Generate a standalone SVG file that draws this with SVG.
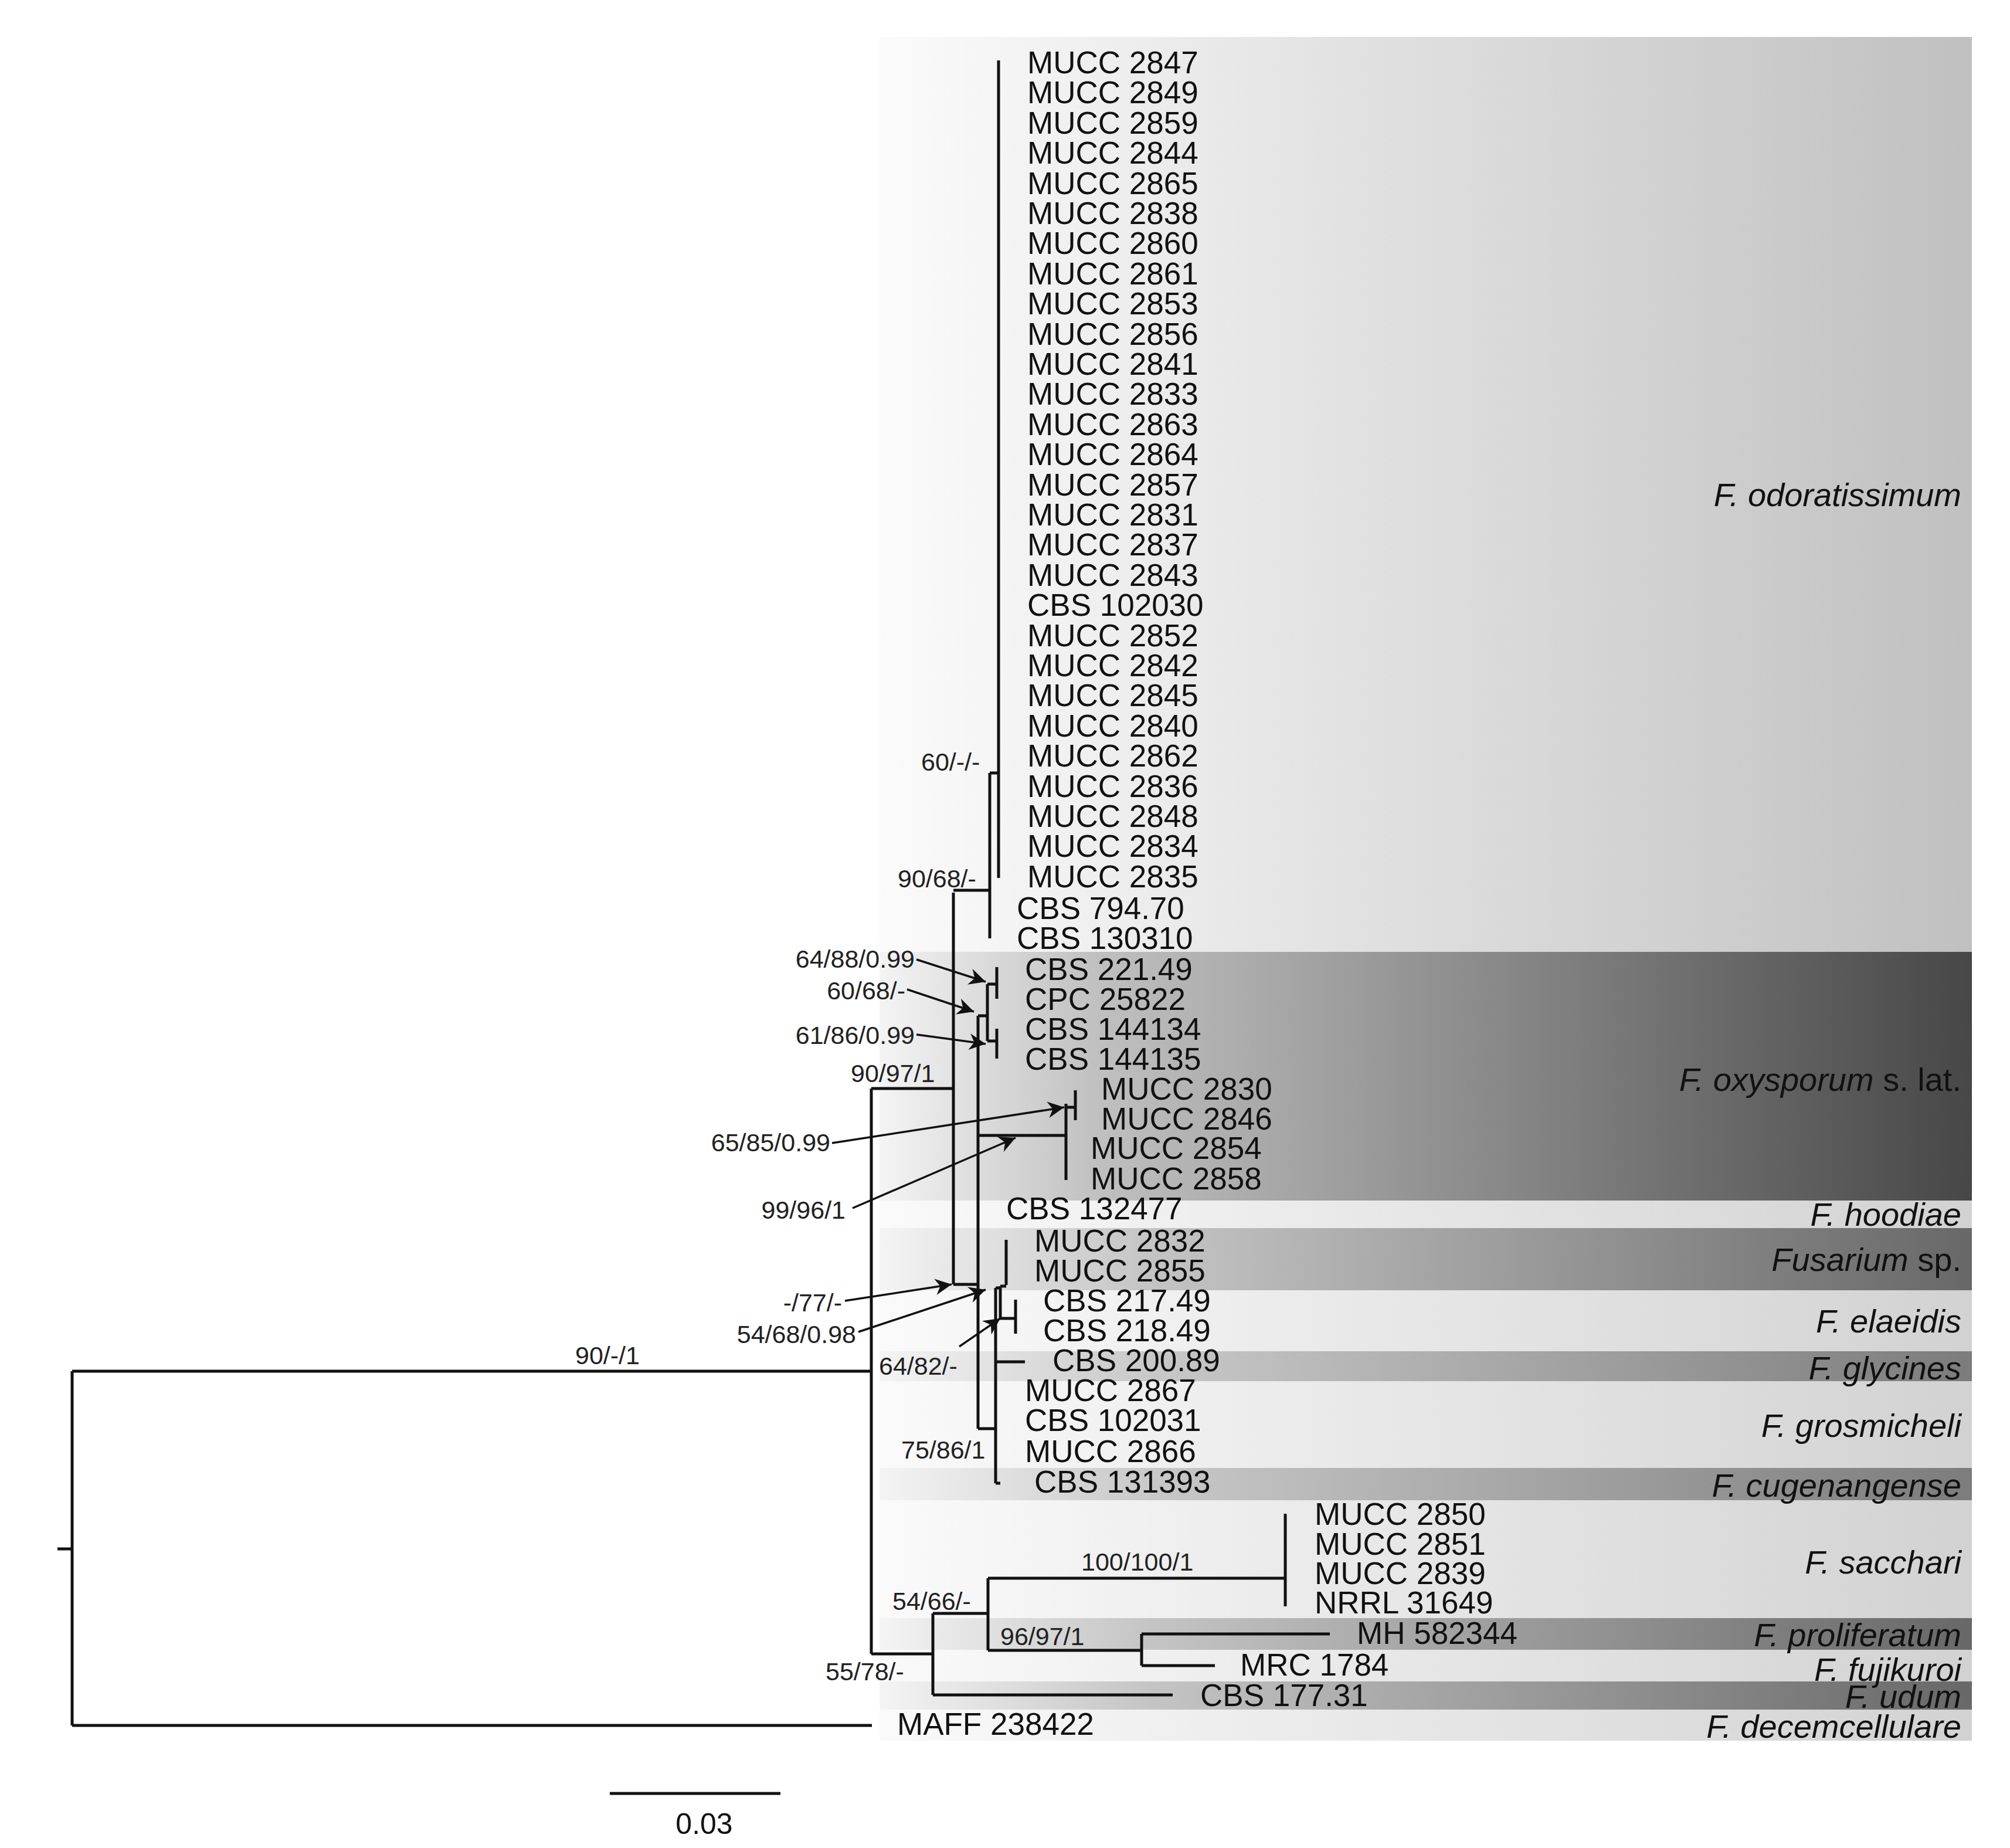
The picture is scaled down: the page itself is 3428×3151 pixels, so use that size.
<svg xmlns="http://www.w3.org/2000/svg" width="3428" height="3151" viewBox="0 0 3428 3151">
<style>
.t{font-family:"Liberation Sans",Arial,sans-serif;font-size:53px;fill:#111}
.s{font-family:"Liberation Sans",Arial,sans-serif;font-size:43px;fill:#222}
.c{font-family:"Liberation Sans",Arial,sans-serif;font-size:56px;font-style:italic;fill:#111;text-anchor:end}
.e{text-anchor:end}
.br{fill:none;stroke:#111;stroke-width:5}
.ar{fill:none;stroke:#111;stroke-width:3.5;marker-end:url(#ah)}
</style>
<defs>
<marker id="ah" viewBox="0 0 10 10" refX="10" refY="5" markerWidth="11" markerHeight="8" orient="auto" markerUnits="strokeWidth"><path d="M0,0 L10,5 L0,10 L3,5 z" fill="#111"/></marker>
<linearGradient id="gL" gradientUnits="userSpaceOnUse" x1="1500" y1="0" x2="3363" y2="0"><stop offset="0" stop-color="#fbfbfb"/><stop offset="1" stop-color="#c0c0c0"/></linearGradient>
<linearGradient id="gL2" gradientUnits="userSpaceOnUse" x1="1500" y1="0" x2="3363" y2="0"><stop offset="0" stop-color="#fafafa"/><stop offset="1" stop-color="#d2d2d2"/></linearGradient>
<linearGradient id="gD" gradientUnits="userSpaceOnUse" x1="1500" y1="0" x2="3363" y2="0"><stop offset="0" stop-color="#f4f4f4"/><stop offset="0.2" stop-color="#c0c0c0"/><stop offset="1" stop-color="#474747"/></linearGradient>
<linearGradient id="gM" gradientUnits="userSpaceOnUse" x1="1500" y1="0" x2="3363" y2="0"><stop offset="0" stop-color="#f4f4f4"/><stop offset="0.25" stop-color="#c4c4c4"/><stop offset="1" stop-color="#686868"/></linearGradient>
<linearGradient id="gM2" gradientUnits="userSpaceOnUse" x1="1500" y1="0" x2="3363" y2="0"><stop offset="0" stop-color="#f4f4f4"/><stop offset="0.25" stop-color="#c8c8c8"/><stop offset="1" stop-color="#7c7c7c"/></linearGradient>
</defs>
<rect width="3428" height="3151" fill="#fff"/>
<g id="bands">
<rect x="1500" y="63" width="1863" height="1560" fill="url(#gL)"/>
<rect x="1500" y="1623" width="1863" height="424" fill="url(#gD)"/>
<rect x="1500" y="2047" width="1863" height="47" fill="url(#gL2)"/>
<rect x="1500" y="2094" width="1863" height="106" fill="url(#gM)"/>
<rect x="1500" y="2200" width="1863" height="104" fill="url(#gL2)"/>
<rect x="1500" y="2304" width="1863" height="51" fill="url(#gM2)"/>
<rect x="1500" y="2355" width="1863" height="148" fill="url(#gL2)"/>
<rect x="1500" y="2503" width="1863" height="55" fill="url(#gM2)"/>
<rect x="1500" y="2558" width="1863" height="201" fill="url(#gL2)"/>
<rect x="1500" y="2759" width="1863" height="54" fill="url(#gM)"/>
<rect x="1500" y="2813" width="1863" height="54" fill="url(#gL2)"/>
<rect x="1500" y="2867" width="1863" height="48" fill="url(#gM)"/>
<rect x="1500" y="2915" width="1863" height="53" fill="url(#gL2)"/>
</g>
<g id="connectors">
<path class="br" d="M98,2641 H123 M123,2338 V2942 M123,2338 H1486 M123,2942 H1487"/>
<path class="br" d="M1486,1856 V2820 M1486,1856 H1626 M1486,2820 H1591"/>
<path class="br" d="M1626,1522 V2190 M1626,1518 H1688 M1688,1318 V1600 M1688,1318 H1703 M1703,103 V1497"/>
<path class="br" d="M1626,2190 H1668 M1668,1732 V2436 M1668,1732 H1684 M1684,1678 V1775 M1684,1678 H1700 M1700,1649 V1703 M1684,1775 H1700 M1700,1754 V1805"/>
<path class="br" d="M1668,1936 H1818 M1818,1882 V2012 M1818,1888 H1834 M1834,1859 V1910"/>
<path class="br" d="M1668,2436 H1698 M1698,2196 V2529 M1698,2529 H1706 M1698,2196 H1706 M1706,2193 V2248 M1706,2193 H1716 M1716,2114 V2191 M1706,2248 H1732 M1732,2216 V2274 M1698,2322 H1748"/>
<path class="br" d="M1591,2751 V2890 M1591,2751 H1685 M1591,2890 H2000 M1685,2691 V2814 M1685,2691 H2192 M2192,2581 V2739 M1685,2814 H1947 M1947,2786 V2840 M1947,2786 H2268 M1947,2840 H2072"/>
<path class="br" d="M1040,3058 H1331"/>
<path class="ar" d="M1563,1636 L1681,1674"/>
<path class="ar" d="M1547,1687 L1661,1725"/>
<path class="ar" d="M1563,1764 L1681,1780"/>
<path class="ar" d="M1419,1949 L1815,1888"/>
<path class="ar" d="M1454,2060 L1732,1940"/>
<path class="ar" d="M1441,2218 L1623,2190"/>
<path class="ar" d="M1464,2271 L1681,2199"/>
<path class="ar" d="M1636,2296 L1706,2248"/>
</g>
<g id="support">
<text class="s" x="981" y="2326">90/-/1</text>
<text class="s" x="1571" y="1314">60/-/-</text>
<text class="s" x="1531" y="1513">90/68/-</text>
<text class="s" x="1451" y="1845">90/97/1</text>
<text class="s e" x="1560" y="1650">64/88/0.99</text>
<text class="s e" x="1544" y="1704">60/68/-</text>
<text class="s e" x="1560" y="1780">61/86/0.99</text>
<text class="s e" x="1416" y="1963">65/85/0.99</text>
<text class="s e" x="1442" y="2078">99/96/1</text>
<text class="s e" x="1436" y="2236">-/77/-</text>
<text class="s e" x="1460" y="2290">54/68/0.98</text>
<text class="s" x="1499" y="2344">64/82/-</text>
<text class="s" x="1537" y="2487">75/86/1</text>
<text class="s" x="1522" y="2745">54/66/-</text>
<text class="s" x="1408" y="2865">55/78/-</text>
<text class="s" x="1844" y="2678">100/100/1</text>
<text class="s" x="1706" y="2805">96/97/1</text>
<text class="t" x="1201" y="3127" text-anchor="middle" style="font-size:50px">0.03</text>
</g>
<g id="taxa" class="t">
<text x="1752" y="125">MUCC 2847</text>
<text x="1752" y="176">MUCC 2849</text>
<text x="1752" y="228">MUCC 2859</text>
<text x="1752" y="279">MUCC 2844</text>
<text x="1752" y="331">MUCC 2865</text>
<text x="1752" y="382">MUCC 2838</text>
<text x="1752" y="433">MUCC 2860</text>
<text x="1752" y="485">MUCC 2861</text>
<text x="1752" y="536">MUCC 2853</text>
<text x="1752" y="588">MUCC 2856</text>
<text x="1752" y="639">MUCC 2841</text>
<text x="1752" y="690">MUCC 2833</text>
<text x="1752" y="742">MUCC 2863</text>
<text x="1752" y="793">MUCC 2864</text>
<text x="1752" y="845">MUCC 2857</text>
<text x="1752" y="896">MUCC 2831</text>
<text x="1752" y="947">MUCC 2837</text>
<text x="1752" y="999">MUCC 2843</text>
<text x="1752" y="1050">CBS 102030</text>
<text x="1752" y="1102">MUCC 2852</text>
<text x="1752" y="1153">MUCC 2842</text>
<text x="1752" y="1204">MUCC 2845</text>
<text x="1752" y="1256">MUCC 2840</text>
<text x="1752" y="1307">MUCC 2862</text>
<text x="1752" y="1359">MUCC 2836</text>
<text x="1752" y="1410">MUCC 2848</text>
<text x="1752" y="1461">MUCC 2834</text>
<text x="1752" y="1513">MUCC 2835</text>
<text x="1734" y="1567">CBS 794.70</text>
<text x="1734" y="1618">CBS 130310</text>
<text x="1748" y="1671">CBS 221.49</text>
<text x="1748" y="1722">CPC 25822</text>
<text x="1748" y="1773">CBS 144134</text>
<text x="1748" y="1824">CBS 144135</text>
<text x="1878" y="1875">MUCC 2830</text>
<text x="1878" y="1926">MUCC 2846</text>
<text x="1860" y="1976">MUCC 2854</text>
<text x="1860" y="2028">MUCC 2858</text>
<text x="1716" y="2079">CBS 132477</text>
<text x="1764" y="2134">MUCC 2832</text>
<text x="1764" y="2185">MUCC 2855</text>
<text x="1779" y="2236">CBS 217.49</text>
<text x="1779" y="2287">CBS 218.49</text>
<text x="1795" y="2338">CBS 200.89</text>
<text x="1748" y="2389">MUCC 2867</text>
<text x="1748" y="2440">CBS 102031</text>
<text x="1748" y="2493">MUCC 2866</text>
<text x="1764" y="2545">CBS 131393</text>
<text x="2242" y="2600">MUCC 2850</text>
<text x="2242" y="2651">MUCC 2851</text>
<text x="2242" y="2701">MUCC 2839</text>
<text x="2242" y="2751">NRRL 31649</text>
<text x="2314" y="2803">MH 582344</text>
<text x="2115" y="2857">MRC 1784</text>
<text x="2047" y="2909">CBS 177.31</text>
<text x="1530" y="2958">MAFF 238422</text>
</g>
<g id="clades">
<text class="c" x="3345" y="863">F. odoratissimum</text>
<text class="c" x="3345" y="1860">F. oxysporum<tspan style="font-style:normal"> s. lat.</tspan></text>
<text class="c" x="3345" y="2090">F. hoodiae</text>
<text class="c" x="3345" y="2167">Fusarium<tspan style="font-style:normal"> sp.</tspan></text>
<text class="c" x="3345" y="2272">F. elaeidis</text>
<text class="c" x="3345" y="2352">F. glycines</text>
<text class="c" x="3345" y="2450">F. grosmicheli</text>
<text class="c" x="3345" y="2552">F. cugenangense</text>
<text class="c" x="3345" y="2683">F. sacchari</text>
<text class="c" x="3345" y="2807">F. proliferatum</text>
<text class="c" x="3345" y="2866">F. fujikuroi</text>
<text class="c" x="3345" y="2912">F. udum</text>
<text class="c" x="3345" y="2963">F. decemcellulare</text>
</g>
</svg>
